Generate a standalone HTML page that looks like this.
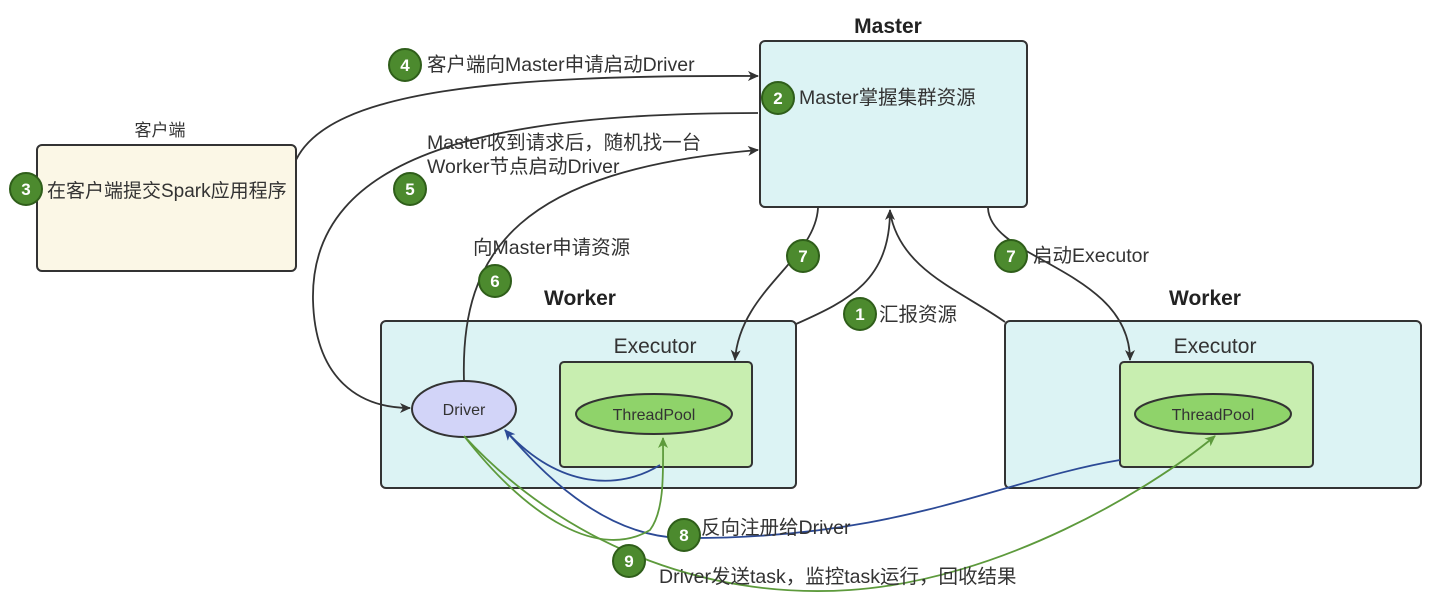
<!DOCTYPE html>
<html><head><meta charset="utf-8"><style>
body{margin:0;background:#fff;}
svg{display:block;font-family:"Liberation Sans","Noto Sans CJK SC",sans-serif;}
</style></head><body>
<svg width="1443" height="614" viewBox="0 0 1443 614" xmlns="http://www.w3.org/2000/svg">
<defs>
<marker id="ak" markerWidth="12" markerHeight="12" refX="10" refY="5" orient="auto" markerUnits="userSpaceOnUse"><path d="M0,0 L11,5 L0,10 L3,5z" fill="#333"/></marker>
<marker id="ab" markerWidth="12" markerHeight="12" refX="10" refY="5" orient="auto" markerUnits="userSpaceOnUse"><path d="M0,0 L11,5 L0,10 L3,5z" fill="#2c4a96"/></marker>
<marker id="ag" markerWidth="12" markerHeight="12" refX="10" refY="5" orient="auto" markerUnits="userSpaceOnUse"><path d="M0,0 L11,5 L0,10 L3,5z" fill="#5d9a3c"/></marker>
</defs>
<text x="888" y="33" font-size="21" font-weight="bold" text-anchor="middle" fill="#222">Master</text>
<rect x="760" y="41" width="267" height="166" rx="5" fill="#dcf3f4" stroke="#333" stroke-width="2"/>
<text x="160" y="136" font-size="17" text-anchor="middle" fill="#333">客户端</text>
<rect x="37" y="145" width="259" height="126" rx="5" fill="#fbf7e6" stroke="#333" stroke-width="2"/>
<text x="580" y="305" font-size="21" font-weight="bold" text-anchor="middle" fill="#222">Worker</text>
<rect x="381" y="321" width="415" height="167" rx="5" fill="#dcf3f4" stroke="#333" stroke-width="2"/>
<text x="1205" y="305" font-size="21" font-weight="bold" text-anchor="middle" fill="#222">Worker</text>
<rect x="1005" y="321" width="416" height="167" rx="5" fill="#dcf3f4" stroke="#333" stroke-width="2"/>
<text x="655" y="353" font-size="21" text-anchor="middle" fill="#333">Executor</text>
<rect x="560" y="362" width="192" height="105" rx="4" fill="#c8eeb0" stroke="#333" stroke-width="2"/>
<text x="1215" y="353" font-size="21" text-anchor="middle" fill="#333">Executor</text>
<rect x="1120" y="362" width="193" height="105" rx="4" fill="#c8eeb0" stroke="#333" stroke-width="2"/>
<ellipse cx="654" cy="414" rx="78" ry="20" fill="#8fd36a" stroke="#333" stroke-width="2"/>
<text x="654" y="420" font-size="16" text-anchor="middle" fill="#333">ThreadPool</text>
<ellipse cx="1213" cy="414" rx="78" ry="20" fill="#8fd36a" stroke="#333" stroke-width="2"/>
<text x="1213" y="420" font-size="16" text-anchor="middle" fill="#333">ThreadPool</text>
<ellipse cx="464" cy="409" rx="52" ry="28" fill="#d2d4f8" stroke="#333" stroke-width="2"/>
<text x="464" y="415" font-size="16" text-anchor="middle" fill="#333">Driver</text>
<g fill="none" stroke-width="1.8">
<path d="M296,160 C330,90 500,75 758,76" stroke="#333" marker-end="url(#ak)"/>
<path d="M758,113 C500,113 310,150 313,300 C315,380 360,408 410,408" stroke="#333" marker-end="url(#ak)"/>
<path d="M464,381 C460,250 520,170 758,150" stroke="#333" marker-end="url(#ak)"/>
<path d="M818,208 C815,260 740,290 735,360" stroke="#333" marker-end="url(#ak)"/>
<path d="M796,324 C850,300 890,280 890,210" stroke="#333" marker-end="url(#ak)"/>
<path d="M1005,322 C960,290 900,270 890,212" stroke="#333"/>
<path d="M988,208 C990,260 1130,270 1130,360" stroke="#333" marker-end="url(#ak)"/>
<path d="M1120,460 C1000,480 900,540 680,538 C600,535 540,470 505,430" stroke="#2c4a96" marker-end="url(#ab)"/>
<path d="M660,465 C620,490 560,490 505,430" stroke="#2c4a96"/>
<path d="M464,436 C530,520 600,560 650,530 C665,510 663,470 663,438" stroke="#5d9a3c" marker-end="url(#ag)"/>
<path d="M464,436 C560,540 700,600 850,590 C1000,580 1150,490 1215,436" stroke="#5d9a3c" marker-end="url(#ag)"/>
</g>
<g font-size="19.5" fill="#333">
<text x="427" y="71">客户端向Master申请启动Driver</text>
<text x="799" y="104">Master掌握集群资源</text>
<text x="47" y="197" font-size="19">在客户端提交Spark应用程序</text>
<text x="427" y="149">Master收到请求后，随机找一台</text>
<text x="427" y="173">Worker节点启动Driver</text>
<text x="473" y="254">向Master申请资源</text>
<text x="1033" y="262">启动Executor</text>
<text x="879" y="321">汇报资源</text>
<text x="701" y="534">反向注册给Driver</text>
<text x="659" y="583">Driver发送task，监控task运行，回收结果</text>
</g>
<g font-size="17" font-weight="bold" fill="#fff" text-anchor="middle">
<g><circle cx="26" cy="189" r="16" fill="#4c8a2e" stroke="#2f5e1a" stroke-width="2"/><text x="26" y="195">3</text></g>
<g><circle cx="405" cy="65" r="16" fill="#4c8a2e" stroke="#2f5e1a" stroke-width="2"/><text x="405" y="71">4</text></g>
<g><circle cx="778" cy="98" r="16" fill="#4c8a2e" stroke="#2f5e1a" stroke-width="2"/><text x="778" y="104">2</text></g>
<g><circle cx="410" cy="189" r="16" fill="#4c8a2e" stroke="#2f5e1a" stroke-width="2"/><text x="410" y="195">5</text></g>
<g><circle cx="495" cy="281" r="16" fill="#4c8a2e" stroke="#2f5e1a" stroke-width="2"/><text x="495" y="287">6</text></g>
<g><circle cx="803" cy="256" r="16" fill="#4c8a2e" stroke="#2f5e1a" stroke-width="2"/><text x="803" y="262">7</text></g>
<g><circle cx="1011" cy="256" r="16" fill="#4c8a2e" stroke="#2f5e1a" stroke-width="2"/><text x="1011" y="262">7</text></g>
<g><circle cx="860" cy="314" r="16" fill="#4c8a2e" stroke="#2f5e1a" stroke-width="2"/><text x="860" y="320">1</text></g>
<g><circle cx="684" cy="535" r="16" fill="#4c8a2e" stroke="#2f5e1a" stroke-width="2"/><text x="684" y="541">8</text></g>
<g><circle cx="629" cy="561" r="16" fill="#4c8a2e" stroke="#2f5e1a" stroke-width="2"/><text x="629" y="567">9</text></g>
</g>
</svg>
</body></html>
